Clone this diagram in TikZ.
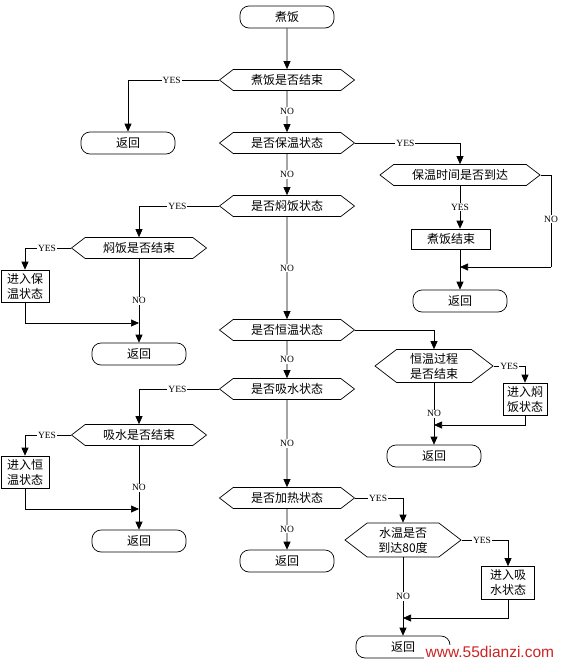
\documentclass[tikz,border=0pt]{standalone}
\usepackage{fontspec}
\setmainfont{Liberation Serif}
\newfontfamily\cjk{Noto Sans CJK SC}
\newfontfamily\wmfont{Liberation Sans}
\usetikzlibrary{shapes.symbols,arrows.meta}
\begin{document}
\begin{tikzpicture}[x=1pt,y=-1pt,
 every node/.style={font=\cjk\fontsize{12}{15}\selectfont, align=center},
 term/.style={draw, line width=0.7pt, rectangle, rounded corners=9pt, minimum width=94pt, minimum height=22pt, inner sep=0pt},
 dec/.style={draw, line width=0.7pt, signal, signal to=west and east, signal pointer angle=75, minimum width=135pt, minimum height=21pt, inner sep=0pt},
 proc/.style={draw, line width=0.7pt, rectangle, minimum width=48pt, minimum height=32pt, inner sep=0pt},
 lab/.style={fill=white, inner sep=1pt, font=\fontsize{9.5}{9.5}\selectfont},
 arr/.style={-{Triangle[length=8pt,width=7pt]}, line width=0.7pt},
 ln/.style={line width=0.7pt}
]
\useasboundingbox (0,0) rectangle (560,664);
\fill[white] (0,0) rectangle (560,664);

% nodes
\node[term] (start) at (287,17) {煮饭};
\node[dec] (d1) at (287,80) {煮饭是否结束};
\node[term] (r1) at (128,143) {返回};
\node[dec] (d2) at (287,143) {是否保温状态};
\node[dec, minimum width=160pt] (d3) at (460,175) {保温时间是否到达};
\node[proc, minimum width=79pt, minimum height=20pt] (p1) at (451,239) {煮饭结束};
\node[term] (r2) at (460,301) {返回};
\node[dec] (d4) at (287,206) {是否焖饭状态};
\node[dec] (d5) at (139,248) {焖饭是否结束};
\node[proc] (p2) at (25,286) {进入保\\温状态};
\node[term] (r3) at (139,354) {返回};
\node[dec] (d6) at (287,330) {是否恒温状态};
\node[dec, minimum width=118pt, minimum height=33pt] (d7) at (434,366) {恒温过程\\是否结束};
\node[proc, minimum width=44pt] (p3) at (525,399) {进入焖\\饭状态};
\node[term] (r4) at (434,456) {返回};
\node[dec] (d8) at (287,389) {是否吸水状态};
\node[dec] (d9) at (139,435) {吸水是否结束};
\node[proc] (p4) at (25,472) {进入恒\\温状态};
\node[term] (r5) at (139,541) {返回};
\node[dec] (d10) at (287,498) {是否加热状态};
\node[dec, minimum width=116pt, minimum height=34pt] (d11) at (403,540) {水温是否\\到达80度};
\node[proc, minimum width=53pt, minimum height=33pt] (p5) at (508,583) {进入吸\\水状态};
\node[term] (r6) at (287,561) {返回};
\node[term] (r7) at (403,647) {返回};

% merge coordinates
\coordinate (k1) at (551,267);
\coordinate (m1) at (460,267);
\coordinate (m2) at (139,323);
\coordinate (m3) at (434,425);
\coordinate (m4) at (139,509);
\coordinate (m5) at (403,618);

% connectors
\draw[arr] (start) -- (d1);
\draw[arr] (d1.west) -| node[lab, pos=0.26] {YES} (r1.north);
\draw[arr] (d1) -- node[lab] {NO} (d2);
\draw[arr] (d2.east) -| node[lab, pos=0.24] {YES} (d3.north);
\draw[arr] (d3.south) -- node[lab] {YES} (d3.south |- p1.north);
\draw[ln] (r2.north |- p1.south) -- (m1);
\draw[arr] (m1) -- (r2.north);
\draw[ln] (d3.east) -| node[lab, pos=0.74, inner sep=0.5pt] {NO} (k1);
\draw[arr] (k1) -- (m1);
\draw[arr] (d2) -- node[lab] {NO} (d4);
\draw[arr] (d4.west) -| node[lab, pos=0.26] {YES} (d5.north);
\draw[arr] (d5.west) -| node[lab, pos=0.26] {YES} (p2.north);
\draw[arr] (p2.south) |- (m2);
\draw[arr] (d5.south) -- node[lab, pos=0.5] {NO} (r3.north);
\draw[arr] (d4) -- node[lab] {NO} (d6);
\draw[arr] (d6.east) -| (d7.north);
\draw[arr] (d7.east) -| node[lab, pos=0.25] {YES} (p3.north);
\draw[arr] (p3.south) |- (m3);
\draw[arr] (d7.south) -- node[lab] {NO} (r4.north);
\draw[arr] (d6) -- node[lab] {NO} (d8);
\draw[arr] (d8.west) -| node[lab, pos=0.26] {YES} (d9.north);
\draw[arr] (d9.west) -| node[lab, pos=0.26] {YES} (p4.north);
\draw[arr] (p4.south) |- (m4);
\draw[arr] (d9.south) -- node[lab] {NO} (r5.north);
\draw[arr] (d8) -- node[lab] {NO} (d10);
\draw[arr] (d10.east) -| node[lab, pos=0.24] {YES} (d11.north);
\draw[arr] (d11.east) -| node[lab, pos=0.22] {YES} (p5.north);
\draw[arr] (p5.south) |- (m5);
\draw[arr] (d11.south) -- node[lab] {NO} (r7.north);
\draw[arr] (d10) -- node[lab] {NO} (r6);

% watermark
\node[fill=white, inner sep=1.5pt, text={rgb,255:red,205;green,35;blue,35}, font=\wmfont\fontsize{15.5}{15.5}\selectfont, anchor=west] (wm) at (424,652) {www.55dianzi.com};
\end{tikzpicture}
\end{document}
